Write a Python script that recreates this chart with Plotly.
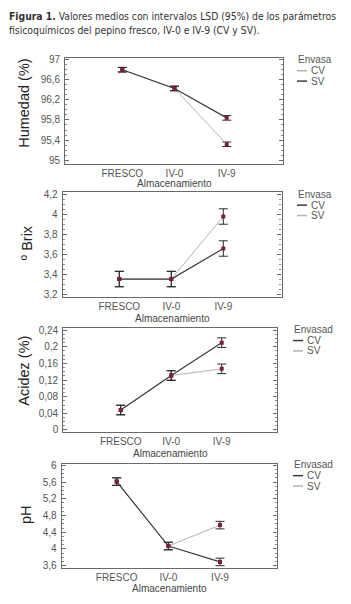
import plotly.graph_objects as go

# ---------------- data ----------------
categories = ["FRESCO", "IV-0", "IV-9"]

humedad_cv = [96.79, 96.42, 95.32]
humedad_sv = [96.79, 96.42, 95.84]
humedad_lsd = 0.045

brix_cv = [3.355, 3.355, 3.66]
brix_sv = [3.355, 3.355, 3.98]
brix_lsd = 0.077

acidez_cv = [0.048, 0.131, 0.210]
acidez_sv = [0.048, 0.131, 0.147]
acidez_lsd = 0.0115

ph_cv = [5.61, 4.07, 3.69]
ph_sv = [5.61, 4.07, 4.57]
ph_lsd = 0.09

y_titles = ["Humedad (%)", "º Brix", "Acidez (%)", "pH"]
legend_titles = ["Envasa", "Envasa", "Envasad", "Envasad"]
x_title = "Almacenamiento"
title_bold = "Figura 1."
title_line1 = " Valores medios con intervalos LSD (95%) de los parámetros"
title_line2 = "fisicoquímicos del pepino fresco, IV-0 e IV-9 (CV y SV)."

# ---------------- layout helpers ----------------
W, H = 351, 604
DARK = "#3c3c3c"
LIGHT = "#b4b4b4"
MARK = "#7a1f3d"
NARROW = "DejaVu Sans Condensed, Liberation Sans, sans-serif"
SANS = "Liberation Sans, Arial, sans-serif"

def px_x(v):
    return v / W

def px_y(v):
    return 1 - v / H

# (left, top, right, bottom) in pixels
boxes = [(65.3, 54.3, 283.3, 161.7),
         (62.7, 190.7, 281.5, 296.7),
         (63.3, 328.3, 276.7, 433.3),
         (61.7, 465.0, 276.7, 570.7)]
x_ranges = [(-1.092, 3.084), (-1.088, 3.119), (-1.137, 3.089), (-1.065, 3.098)]
y_ranges = [(94.934, 97.027), (3.173, 4.22), (-0.0055, 0.244), (3.543, 6.04)]
y_ticks = [(95, 0.4), (3.2, 0.2), (0, 0.04), (3.6, 0.4)]
ytitle_pos = [(24, 101), (27, 242), (24, 371), (26, 517)]
xtitle_y = [182, 318, 455, 591.7]
legend_pos = [(297, 57), (297, 193), (293, 330), (293, 466.7)]
# per panel: which series is dark (panel 1 legend shows CV light, SV dark)
cv_dark = [False, True, True, True]

series = [(humedad_cv, humedad_sv, humedad_lsd),
          (brix_cv, brix_sv, brix_lsd),
          (acidez_cv, acidez_sv, acidez_lsd),
          (ph_cv, ph_sv, ph_lsd)]

fig = go.Figure()
annotations = []
shapes = []
layout_axes = {}

for i, (cv, sv, lsd) in enumerate(series):
    n = i + 1
    xa = "x" if n == 1 else f"x{n}"
    ya = "y" if n == 1 else f"y{n}"
    cv_col = DARK if cv_dark[i] else LIGHT
    sv_col = LIGHT if cv_dark[i] else DARK
    traces = [("CV", cv, cv_col), ("SV", sv, sv_col)]
    # light first, dark on top
    traces.sort(key=lambda t: 0 if t[2] == LIGHT else 1)
    for name, vals, col in traces:
        fig.add_trace(go.Scatter(
            x=categories, y=vals, name=name, xaxis=xa, yaxis=ya,
            mode="lines+markers", showlegend=False,
            line=dict(color=col, width=1.2 if col == DARK else 1.0),
            marker=dict(color=MARK, size=4, symbol="square"),
            error_y=dict(type="constant", value=lsd, color="#2a2a2a",
                         thickness=1, width=4.5),
        ))
    l, t, r, b = boxes[i]
    tick0, dtick = y_ticks[i]
    layout_axes["xaxis" if n == 1 else f"xaxis{n}"] = dict(
        domain=[px_x(l), px_x(r)], anchor=ya, range=list(x_ranges[i]),
        type="category", showline=True, linecolor="#6a6a6a", linewidth=1.2,
        mirror=True, ticks="", ticklen=0, showgrid=False, zeroline=False,
        tickfont=dict(family=SANS, size=10, color="#555"),
        ticklabelstandoff=0,
    )
    layout_axes["yaxis" if n == 1 else f"yaxis{n}"] = dict(
        domain=[px_y(b), px_y(t)], anchor=xa, range=list(y_ranges[i]),
        showline=True, linecolor="#6a6a6a", linewidth=1.2, mirror="ticks",
        ticks="inside", ticklen=4, tickcolor="#6a6a6a", tick0=tick0, dtick=dtick,
        minor=dict(ticks="inside", ticklen=2, nticks=5, tickcolor="#8a8a8a"),
        showgrid=False, zeroline=False,
        tickfont=dict(family=SANS, size=10, color="#555"),
        ticklabelstandoff=2,
    )
    # y title
    tx, ty = ytitle_pos[i]
    annotations.append(dict(
        text=y_titles[i], x=px_x(tx), y=px_y(ty), xref="paper", yref="paper",
        showarrow=False, textangle=-90, xanchor="center", yanchor="middle",
        font=dict(family=SANS, size=14.5, color="#222")))
    # x title
    annotations.append(dict(
        text=x_title, x=px_x((l + r) / 2), y=px_y(xtitle_y[i]),
        xref="paper", yref="paper", showarrow=False,
        xanchor="center", yanchor="middle",
        font=dict(family=SANS, size=10, color="#444")))
    # legend
    lx, ly = legend_pos[i]
    annotations.append(dict(
        text=legend_titles[i], x=px_x(lx), y=px_y(ly - 0.5), xref="paper", yref="paper",
        showarrow=False, xanchor="left", yanchor="middle", borderpad=0,
        font=dict(family=SANS, size=10, color="#555")))
    for k, (name, col) in enumerate([("CV", cv_col), ("SV", sv_col)]):
        yy = ly + 10.5 + k * 10.5
        shapes.append(dict(type="line", xref="paper", yref="paper",
                           x0=px_x(lx), x1=px_x(lx + 10), y0=px_y(yy), y1=px_y(yy),
                           line=dict(color=col, width=1.5)))
        annotations.append(dict(
            text=name, x=px_x(lx + 13), y=px_y(yy), xref="paper", yref="paper",
            showarrow=False, xanchor="left", yanchor="middle", borderpad=0,
            font=dict(family=SANS, size=10, color="#555")))

# figure caption
annotations.append(dict(
    text=f"<b>{title_bold}</b>{title_line1}", x=px_x(7), y=px_y(11.7),
    xref="paper", yref="paper", showarrow=False, xanchor="left", yanchor="middle",
    font=dict(family=NARROW, size=10.3, color="#333")))
annotations.append(dict(
    text=title_line2, x=px_x(7), y=px_y(26),
    xref="paper", yref="paper", showarrow=False, xanchor="left", yanchor="middle",
    font=dict(family=NARROW, size=10.3, color="#333")))

fig.update_layout(
    width=W, height=H, margin=dict(l=0, r=0, t=0, b=0),
    paper_bgcolor="white", plot_bgcolor="white",
    separators=",.", showlegend=False,
    annotations=annotations, shapes=shapes,
    **layout_axes,
)

fig.write_html("out.html", config={"displayModeBar": False},
               post_script="document.body.style.margin='0';")
